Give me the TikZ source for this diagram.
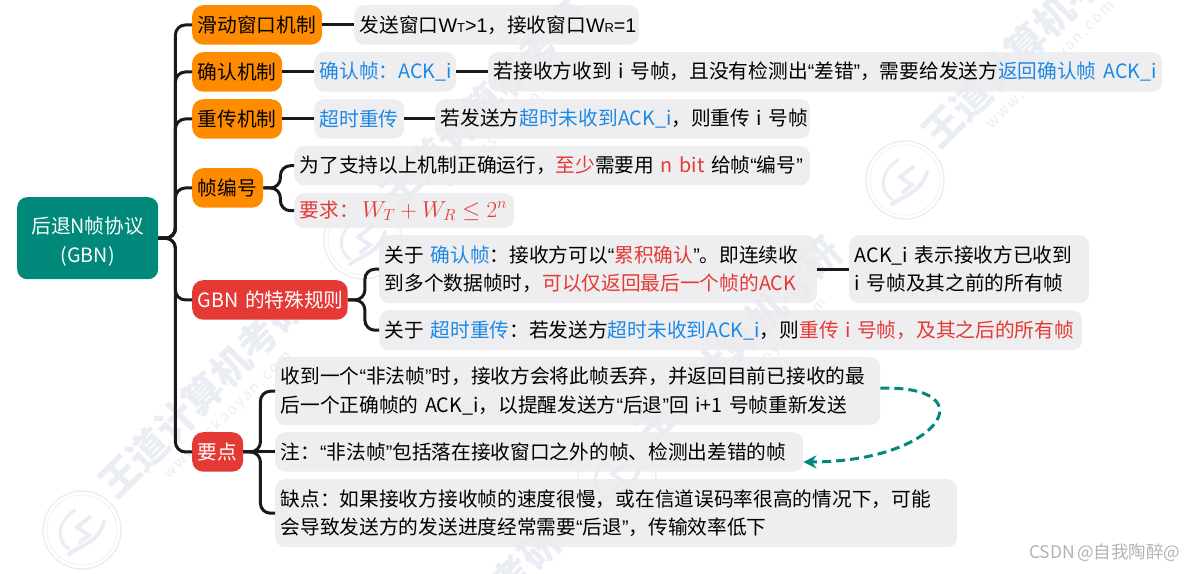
\documentclass[tikz,border=0pt]{standalone}
\usepackage{fix-cm}
\usepackage{fontspec}
\setmainfont[WordSpace=0.6]{Noto Sans CJK SC}
\newfontfamily\quotefont{Liberation Sans}
\usetikzlibrary{arrows.meta}
\usetikzlibrary{positioning}

\definecolor{rootgreen}{HTML}{00897B}
\definecolor{branchorange}{HTML}{FF8C00}
\definecolor{branchred}{HTML}{E53935}
\definecolor{leafgray}{HTML}{EBEBED}
\definecolor{linkblack}{HTML}{1A1A1A}
\definecolor{textblue}{HTML}{1E88E5}
\definecolor{markgray}{HTML}{EBEDF5}

\newcommand{\bl}[1]{\textcolor{textblue}{#1}}
\newcommand{\rd}[1]{\textcolor{branchred}{#1}}
\newcommand{\qo}{{\quotefont “}}
\newcommand{\qc}{{\quotefont ”}}
\newcommand{\smalltag}[1]{{\fontsize{13}{13}\selectfont #1}}
\newcommand{\rowtxt}[1]{\makebox[\linewidth][l]{#1}}

\tikzset{
  box/.style={anchor=north west, inner xsep=5.5pt, inner ysep=0pt, align=left,
    font=\fontsize{19.7}{28.5}\selectfont},
  leaf/.style={box, fill=leafgray, fill opacity=0.85, text opacity=1, rounded corners=10pt},
  branch/.style={box, rounded corners=11pt, text=black},
  link/.style={draw=linkblack, line width=3pt},
  elbow/.style={link, rounded corners=10pt}
}

\begin{document}
\begin{tikzpicture}[x=1pt, y=-1pt]
  \useasboundingbox (0,0) rectangle (1188,573);

%watermark
    \foreach \lx/\ly in {82/530, 363/240, 617/477, 905/180, 336/767} {
         \node[markgray, rotate=45, font=\fontsize{39}{39}\selectfont\bfseries] (wm\lx) at (\lx+121, \ly-136) {王道计算机考研};
         \node[markgray, rotate=45, font=\fontsize{15}{15}\selectfont] (url\lx) at (\lx+146, \ly-115) {w w w . c s k a o y a n . c o m};
         \begin{scope}[shift={(\lx,\ly)}, draw=markgray, line cap=round]
           \draw[line width=1.4pt] (0,0) circle (39);
           \draw[line width=0.6pt] (0,0) circle (35);
           \draw[line width=3pt] (-7,-20) .. controls (-26,-8) and (-25,12) .. (-13,19);
           \draw[line width=4pt] (8,-13) -- (-5,-3) -- (7,5) -- (-2,12);
           \draw[line width=4pt] (-13,24) .. controls (2,14) and (16,12) .. (22,-8);
         \end{scope}
    }

%root
    \node[box, fill=rootgreen, text=white, rounded corners=10pt, align=center, text width=130pt, minimum height=82pt] (root) at (17,197) {\rule{0pt}{23pt}后退N帧协议\\(GBN)};

%orange and red branches
    \foreach \w/\y/\col/\name/\txt in {130/5/branchorange/slide/滑动窗口机制, 90/52/branchorange/ack/确认机制, 90/99/branchorange/resend/重传机制, 71/168/branchorange/seq/帧编号} {
         \node[branch, fill=\col, text width=\w pt-11pt, minimum height=39.5pt] (\name) at (192,\y) {\rowtxt{\txt}};
    }
    \foreach \w/\y/\name/\txt in {155.5/280/gbn/GBN 的特殊规则, 51/432/point/要点} {
         \node[branch, fill=branchred, text=white, text width=\w pt-11pt, minimum height=39.5pt] (\name) at (192,\y) {\rowtxt{\txt}};
    }

%leaves
    \foreach \x/\y/\w/\h/\name/\txt in {
      354/5/285/39.5/slidetxt/{\rowtxt{发送窗口{\quotefont W\smalltag{T}>1}，接收窗口{\quotefont W\smalltag{R}=1}}},
      314/52/142/39.5/ackframe/{\rowtxt{\bl{确认帧：ACK\_i}}},
      488/52/674/39.5/ackrule/{\rowtxt{若接收方收到 i 号帧，且没有检测出\qo 差错\qc，需要给发送方\bl{返回确认帧 ACK\_i}}},
      314/99/90/39.5/timeout/{\rowtxt{\bl{超时重传}}},
      435/99/375/39.5/timeoutrule/{\rowtxt{若发送方\bl{超时未收到ACK\_i}，则重传 i 号帧}},
      294/146/516/39/seqbits/{\rowtxt{为了支持以上机制正确运行，\rd{至少}需要用 \rd{n bit} 给帧\qo 编号\qc}},
      294/193/220/35/seqreq/{\rowtxt{\rd{要求：\,{\fontsize{23}{23}\selectfont$W_T+W_R\leq 2^n$}}}},
      379/235/438/68/cumack/{\rowtxt{关于 \bl{确认帧}：接收方可以\qo\rd{累积确认}\qc。即连续收}\\\rowtxt{到多个数据帧时，\rd{可以仅返回最后一个帧的ACK}}},
      849/235/240/68/cummean/{\rowtxt{ACK\_i 表示接收方已收到}\\\rowtxt{i 号帧及其之前的所有帧}},
      379/310/703/40/gbnresend/{\rowtxt{关于 \bl{超时重传}：若发送方\bl{超时未收到ACK\_i}，则\rd{重传 i 号帧，及其之后的所有帧}}},
      275/357/605/68/illegal/{\rowtxt{收到一个\qo 非法帧\qc 时，接收方会将此帧丢弃，并返回目前已接收的最}\\\rowtxt{后一个正确帧的 ACK\_i，以提醒发送方\qo 后退\qc 回 i+1 号帧重新发送}},
      275/432/528/39.5/illnote/{\rowtxt{注：\qo 非法帧\qc 包括落在接收窗口之外的帧、检测出差错的帧}},
      275/479/682/68/weak/{\rowtxt{缺点：如果接收方接收帧的速度很慢，或在信道误码率很高的情况下，可能}\\\rowtxt{会导致发送方的发送进度经常需要\qo 后退\qc，传输效率低下}}} {
         \node[leaf, text width=\w pt-11pt, minimum height=\h pt] (\name) at (\x,\y) {\txt};
    }

%trunk
    \foreach \name in {slide, ack, resend, seq, gbn, point} {
         \draw[elbow] (root.east) -- ++(17,0) |- (\name.west);
    }

%straight links
    \foreach \a/\b in {slide/slidetxt, ack/ackframe, ackframe/ackrule, resend/timeout, timeout/timeoutrule, cumack/cummean, point/illnote} {
         \draw[link] (\a.east) -- (\b.west);
    }

%brackets
    \foreach \a/\b in {seq/seqbits, seq/seqreq, gbn/cumack, gbn/gbnresend, point/illegal, point/weak} {
         \draw[elbow] (\a.east) -- ++(17,0) |- (\b.west);
    }

%dashed arrow
    \draw[rootgreen, line width=3pt, dash pattern=on 9pt off 5pt, -{Stealth[length=13pt,width=13pt]}] ([yshift=3pt]illegal.east) .. controls (988,385) and (940,462) .. ([yshift=-10pt]illnote.east);

    \node[text=black!30, anchor=east, font=\fontsize{17.5}{17.5}\selectfont] (csdn) at (1184,553) {CSDN @自我陶醉@};
\end{tikzpicture}
\end{document}
